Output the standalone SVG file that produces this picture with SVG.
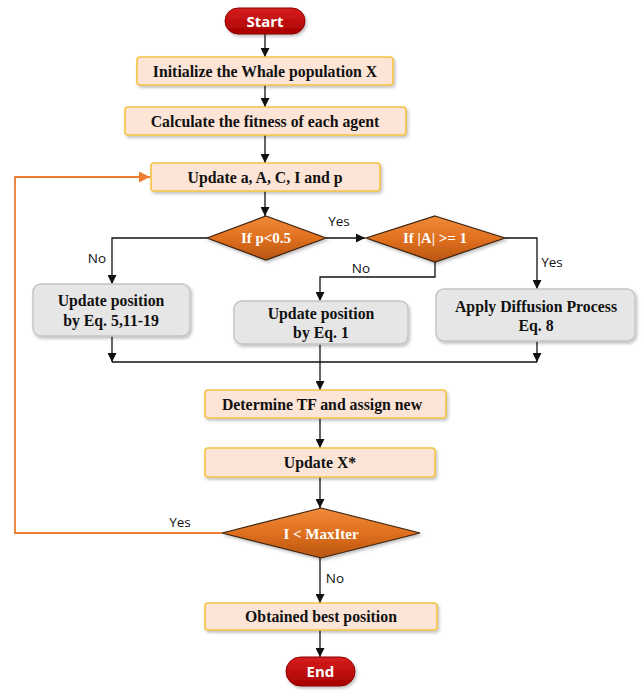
<svg xmlns="http://www.w3.org/2000/svg" width="642" height="691" viewBox="0 0 642 691">
  <defs>
    <linearGradient id="gDia" x1="0" y1="0" x2="0" y2="1">
      <stop offset="0" stop-color="#F08A3A"/>
      <stop offset="0.5" stop-color="#E0701F"/>
      <stop offset="1" stop-color="#B85510"/>
    </linearGradient>
    <linearGradient id="gTerm" x1="0" y1="0" x2="0" y2="1">
      <stop offset="0" stop-color="#D81E1E"/>
      <stop offset="1" stop-color="#A80000"/>
    </linearGradient>
    <filter id="shadow" x="-10%" y="-20%" width="120%" height="150%">
      <feDropShadow dx="1.5" dy="2" stdDeviation="1.5" flood-color="#000" flood-opacity="0.25"/>
    </filter>
    <marker id="arrow" viewBox="0 0 10 10" refX="10" refY="5" markerWidth="9" markerHeight="9" markerUnits="userSpaceOnUse" orient="auto">
      <path d="M0,0 L10,5 L0,10 z" fill="#111"/>
    </marker>
    <marker id="arrowO" viewBox="0 0 10 10" refX="10" refY="5" markerWidth="11" markerHeight="11" markerUnits="userSpaceOnUse" orient="auto">
      <path d="M0,0 L10,5 L0,10 z" fill="#ED7D31"/>
    </marker>
  </defs>
  <style>
    .proc { fill: #FCE4D6; stroke: #F5C242; stroke-width: 1.6; filter: url(#shadow); }
    .gray { fill: #E6E6E6; stroke: #C4C4C4; stroke-width: 1.4; filter: url(#shadow); }
    .dia { fill: url(#gDia); stroke: #3A2210; stroke-width: 1.2; filter: url(#shadow); }
    .term { fill: url(#gTerm); stroke: #8A0000; stroke-width: 1; filter: url(#shadow); }
    .t { font-family: "Liberation Serif", "Times New Roman", serif; font-weight: bold; font-size: 15.8px; fill: #111; text-anchor: middle; }
    .td { font-family: "Liberation Serif", "Times New Roman", serif; font-weight: bold; font-size: 15px; fill: #fff; text-anchor: middle; }
    .tt { font-family: "Open Sans", "Liberation Sans", sans-serif; font-weight: bold; font-size: 15px; fill: #fff; text-anchor: middle; }
    .lbl { font-family: "Open Sans", "Liberation Sans", sans-serif; font-size: 13.5px; fill: #111; text-anchor: middle; }
    .ln { fill: none; stroke: #111; stroke-width: 1.3; }
    .lo { fill: none; stroke: #ED7D31; stroke-width: 1.8; }
  </style>

  <!-- connectors -->
  <g id="connectors">
    <line class="ln" x1="265" y1="34" x2="265" y2="57" marker-end="url(#arrow)"/>
    <line class="ln" x1="265" y1="85" x2="265" y2="107" marker-end="url(#arrow)"/>
    <line class="ln" x1="265" y1="135" x2="265" y2="163" marker-end="url(#arrow)"/>
    <line class="ln" x1="265" y1="191" x2="265" y2="216" marker-end="url(#arrow)"/>
    <polyline class="ln" points="207,238 112,238 112,284" marker-end="url(#arrow)"/>
    <line class="ln" x1="326" y1="238" x2="365" y2="238" marker-end="url(#arrow)"/>
    <polyline class="ln" points="435,262 435,277 320,277 320,301" marker-end="url(#arrow)"/>
    <polyline class="ln" points="505,238 537,238 537,289" marker-end="url(#arrow)"/>
    <line class="ln" x1="112" y1="336" x2="112" y2="362" marker-end="url(#arrow)"/>
    <line class="ln" x1="537" y1="341" x2="537" y2="362" marker-end="url(#arrow)"/>
    <line class="ln" x1="112" y1="362" x2="537" y2="362"/>
    <line class="ln" x1="320" y1="344" x2="320" y2="390" marker-end="url(#arrow)"/>
    <line class="ln" x1="320" y1="418" x2="320" y2="448" marker-end="url(#arrow)"/>
    <line class="ln" x1="320" y1="477" x2="320" y2="508" marker-end="url(#arrow)"/>
    <line class="ln" x1="320" y1="558" x2="320" y2="603" marker-end="url(#arrow)"/>
    <line class="ln" x1="320" y1="630" x2="320" y2="657" marker-end="url(#arrow)"/>
    <polyline class="lo" points="222,533 15,533 15,177 150,177" marker-end="url(#arrowO)"/>
    <text class="lbl" x="97" y="263">No</text>
    <text class="lbl" x="339" y="226">Yes</text>
    <text class="lbl" x="361" y="273">No</text>
    <text class="lbl" x="552" y="267">Yes</text>
    <text class="lbl" x="180" y="527">Yes</text>
    <text class="lbl" x="335" y="583">No</text>
  </g>

  <g id="start">
    <rect class="term" x="225" y="8" width="80" height="26" rx="13"/>
    <text class="tt" x="265" y="26.5">Start</text>
  </g>
  <g id="init">
    <rect class="proc" x="137" y="57" width="256" height="28" rx="3"/>
    <text class="t" x="265" y="76.5">Initialize the Whale population X</text>
  </g>
  <g id="fitness">
    <rect class="proc" x="125" y="107" width="281" height="28" rx="3"/>
    <text class="t" x="265" y="126.5">Calculate the fitness of each agent</text>
  </g>
  <g id="update-params">
    <rect class="proc" x="151" y="163" width="229" height="28" rx="3"/>
    <text class="t" x="265" y="182.5">Update a, A, C, I and p</text>
  </g>
  <g id="cond-p">
    <polygon class="dia" points="266,216 326,238 266,260 207,238"/>
    <text class="td" x="266" y="243">If p&lt;0.5</text>
  </g>
  <g id="cond-a">
    <polygon class="dia" points="435,216 505,238 435,262 366,238"/>
    <text class="td" x="435" y="243">If |A| &gt;= 1</text>
  </g>
  <g id="pos-spiral">
    <rect class="gray" x="33" y="284" width="157" height="52" rx="8"/>
    <text class="t" x="111" y="306">Update position</text>
    <text class="t" x="111" y="326">by Eq. 5,11-19</text>
  </g>
  <g id="pos-eq1">
    <rect class="gray" x="234" y="301" width="174" height="43" rx="8"/>
    <text class="t" x="321" y="319">Update position</text>
    <text class="t" x="321" y="338">by Eq. 1</text>
  </g>
  <g id="diffusion">
    <rect class="gray" x="436" y="289" width="199" height="52" rx="8"/>
    <text class="t" x="536" y="312">Apply Diffusion Process</text>
    <text class="t" x="536" y="331">Eq. 8</text>
  </g>
  <g id="determine-tf">
    <rect class="proc" x="205" y="390" width="241" height="28" rx="3"/>
    <text class="t" x="322" y="409.5">Determine TF and assign new</text>
  </g>
  <g id="update-best">
    <rect class="proc" x="205" y="448" width="230" height="29" rx="3"/>
    <text class="t" x="320" y="467.5">Update X*</text>
  </g>
  <g id="cond-iter">
    <polygon class="dia" points="321,508 420,533 321,558 222,533"/>
    <text class="td" x="321" y="538.5">I &lt; MaxIter</text>
  </g>
  <g id="best">
    <rect class="proc" x="205" y="603" width="232" height="27" rx="3"/>
    <text class="t" x="321" y="622">Obtained best position</text>
  </g>
  <g id="end">
    <rect class="term" x="286" y="657" width="69" height="29" rx="14.5"/>
    <text class="tt" x="320.5" y="677">End</text>
  </g>
</svg>
